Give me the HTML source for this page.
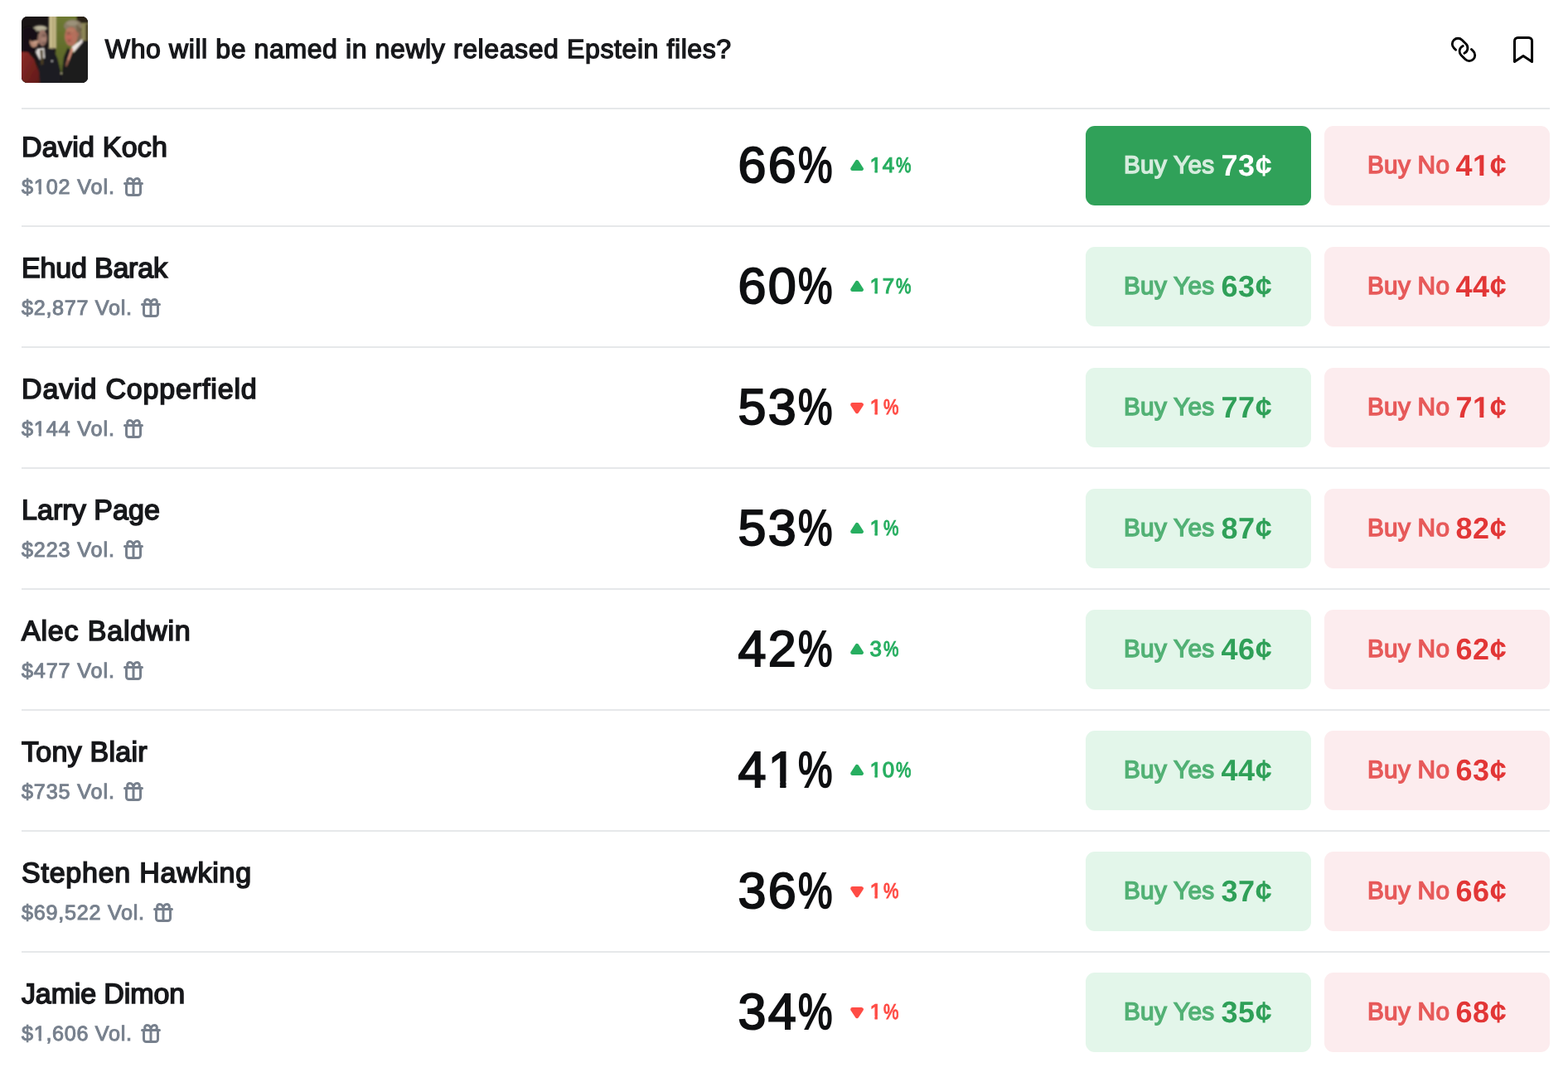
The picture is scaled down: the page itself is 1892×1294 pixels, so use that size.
<!DOCTYPE html>
<html lang="en">
<head>
<meta charset="utf-8">
<title>Who will be named in newly released Epstein files?</title>
<style>
*{box-sizing:border-box;margin:0;padding:0}
html,body{width:1892px;height:1294px;background:#fff}
body{overflow:hidden}
body{position:relative;font-family:"Liberation Sans",sans-serif;color:#17181b;text-rendering:geometricPrecision}
.thumb{position:absolute;left:26px;top:20px;width:80px;height:80px;border-radius:7px;overflow:hidden;background:#1b1617}
.thumb svg{display:block}
.title{position:absolute;left:126.8px;top:39px;height:40px;line-height:40px;font-size:32.1px;font-weight:400;white-space:nowrap;color:#17181b;-webkit-text-stroke:1.35px #17181b}
.ico{position:absolute;fill:none;stroke:#000;stroke-linecap:round;stroke-linejoin:round}
.hr0{position:absolute;left:26px;top:130px;width:1844px;height:2px;background:#e6e8ea}
.row{position:absolute;left:0;width:1892px;height:120px}
.hr{position:absolute;left:26px;top:120px;width:1844px;height:2px;background:#e6e8ea}
.name{position:absolute;left:26px;top:6.1px;height:40px;line-height:40px;font-size:34px;white-space:nowrap;color:#17181b;-webkit-text-stroke:1.6px #17181b}
.vol{position:absolute;left:26px;top:58px;height:32px;line-height:32px;font-size:25.2px;white-space:nowrap;color:#77808d;-webkit-text-stroke:1px #77808d}
.gift{position:absolute;top:4px;left:100%;margin-left:10px;fill:none;stroke:#77808d;stroke-width:3;stroke-linecap:round;stroke-linejoin:round}
.pct{position:absolute;left:890.5px;top:15.1px;height:64px;line-height:64px;font-size:61.1px;white-space:nowrap;color:#0e0f11;-webkit-text-stroke:1.9px #0e0f11;letter-spacing:2.35px}
.pct .ps{display:inline-block;transform:scaleX(.765);transform-origin:0 50%;letter-spacing:0;margin-left:.2px}
.chg{position:absolute;left:1026px;top:0;height:96px;white-space:nowrap;font-size:25.9px}
.chg.up{color:#27ae60}
.chg.down{color:#ff4c45}
.tri{position:absolute;left:0;top:40px;fill:currentColor;stroke:currentColor;stroke-width:4.8;stroke-linejoin:round}
.cv{position:absolute;left:23.5px;top:31.9px;height:32px;line-height:32px;letter-spacing:.8px;-webkit-text-stroke:1.1px currentColor}
.cv .ps{display:inline-block;transform:scaleX(.8);transform-origin:0 50%;letter-spacing:0;margin-left:1px}
.btn{position:absolute;top:0;width:272px;height:96px;border-radius:11px;white-space:nowrap}
.btn.yes{left:1310px;background:#e3f6ea;color:#2fa058}
.btn.no{left:1598px;background:#fcecee;color:#e23636}
.btn.yes.active{background:#30a159;color:#fff}
.lbl{position:absolute;left:46px;top:29.7px;letter-spacing:.25px;font-size:29.8px;line-height:36px;height:36px;opacity:.8;-webkit-text-stroke:1.4px currentColor}
.pr{position:absolute;left:163.5px;top:28px;letter-spacing:.6px;font-size:36px;line-height:40px;height:40px;font-weight:700}
.down .tri{top:42px}
.no .lbl{left:52px}
.no .pr{left:158.4px}
.vt{display:inline-block}
.pct.f2{clip-path:polygon(-9px -9px,calc(100% + 9px) -9px,calc(100% + 9px) calc(100% + 9px),72.3px calc(100% + 9px),72.3px 46.2px,57.92px 46.2px,57.92px calc(100% + 9px),50.72px calc(100% + 9px),50.72px 46.2px,36.6px 46.2px,36.6px calc(100% + 9px),-9px calc(100% + 9px))}
.cv.f1{clip-path:polygon(-9px -9px,calc(100% + 9px) -9px,calc(100% + 9px) calc(100% + 9px),15px calc(100% + 9px),15px 20.6px,9.3px 20.6px,9.3px calc(100% + 9px),6px calc(100% + 9px),6px 20.6px,-2px 20.6px,-2px calc(100% + 9px),-9px calc(100% + 9px))}
.pr.f2{clip-path:polygon(-9px -9px,calc(100% + 9px) -9px,calc(100% + 9px) calc(100% + 9px),41px calc(100% + 9px),41px 27.3px,33.92px 27.3px,33.92px calc(100% + 9px),29.02px calc(100% + 9px),29.02px 27.3px,20.9px 27.3px,20.9px calc(100% + 9px),-9px calc(100% + 9px))}
.vt.f2{clip-path:polygon(-9px -9px,calc(100% + 9px) -9px,calc(100% + 9px) calc(100% + 9px),28.4px calc(100% + 9px),28.4px 20.6px,23.8px 20.6px,23.8px calc(100% + 9px),20.7px calc(100% + 9px),20.7px 20.6px,15.6px 20.6px,15.6px calc(100% + 9px),-9px calc(100% + 9px))}

</style>
</head>
<body>
<div class="thumb"><svg viewBox="0 0 80 80" width="80" height="80" aria-hidden="true">
<defs>
<filter id="b1" x="-20%" y="-20%" width="140%" height="140%"><feGaussianBlur stdDeviation="0.8"/></filter>
<filter id="b2" x="-30%" y="-30%" width="160%" height="160%"><feGaussianBlur stdDeviation="1.5"/></filter>
<linearGradient id="gj" x1="0" y1="0" x2="1" y2="1"><stop offset="0" stop-color="#8c2d28"/><stop offset="1" stop-color="#5e1817"/></linearGradient>
<linearGradient id="gg" x1="0" y1="0" x2="0" y2="1"><stop offset="0" stop-color="#6f7a33"/><stop offset="1" stop-color="#5a6528"/></linearGradient>
</defs>
<rect width="80" height="80" fill="#191415"/>
<g filter="url(#b1)">
<rect x="41" y="-2" width="27" height="64" fill="url(#gg)"/>
<path d="M43.5 58L50.5 58 49 70.5 46.5 70.5Z" fill="#566227"/>
<rect x="32.9" y="-2" width="8.7" height="40.5" fill="#c8bc8c"/>
<rect x="37.6" y="-2" width="1.3" height="40" fill="#a69a68"/>
<rect x="66.5" y="-2" width="16" height="11" fill="#2b2119"/>
<rect x="72" y="8" width="10" height="21" fill="#8d8656"/>
<rect x="77.3" y="9" width="4" height="19.5" fill="#4a4228"/>
<path d="M82 28L73.5 30 62.6 44 55.7 37.5 51 48.5 48.7 67 47 82 82 82Z" fill="#1d1a1e"/>
<path d="M27 37.3L38.5 39.5 43.5 51 47.5 67 47 82 21 82 20 55 16.5 43Z" fill="#1f1c21"/>
<ellipse cx="62" cy="11" rx="11" ry="7.2" fill="#8a7e66"/>
<ellipse cx="61" cy="8" rx="7" ry="3" fill="#9c927a"/>
<path d="M66 10Q73.5 12 72.5 28L66.5 30Z" fill="#76664f"/>
<ellipse cx="59.8" cy="24" rx="7.8" ry="11.5" fill="#b4705c"/>
<ellipse cx="57.5" cy="25.5" rx="3.5" ry="4" fill="#c06a5a"/>
<ellipse cx="58.5" cy="16.5" rx="5" ry="2.5" fill="#b87a62"/>
<ellipse cx="67.5" cy="21.5" rx="1.6" ry="2.8" fill="#a86a58"/>
<path d="M73.2 27L60.7 36.7 62.6 43.5 73.8 30.6Z" fill="#efe8e4"/>
<path d="M60.2 37.3L62.6 39.5 55.5 58 53.3 57.5Z" fill="#d58d76"/>
<path d="M55.5 52L57 53 54.5 60.5 52.8 60Z" fill="#8a5442"/>
<ellipse cx="22.5" cy="14.2" rx="8.6" ry="3.8" fill="#a8a18a"/>
<ellipse cx="23" cy="13.5" rx="5" ry="1.8" fill="#bdb59c"/>
<ellipse cx="25.3" cy="26" rx="5.8" ry="10" fill="#9b7468"/>
<ellipse cx="26.5" cy="28.5" rx="3" ry="4" fill="#a88072"/>
<path d="M18.6 38.5L27.2 37.5 28 50 22 52 17 43.5Z" fill="#dbd7d3"/>
<path d="M22.3 40L25.5 40 26.5 57.5 23.5 58.5Z" fill="#4a3c22"/>
<ellipse cx="9" cy="23" rx="10.5" ry="10.8" fill="#151012"/>
<path d="M-2 28L14 34 17.5 43 8 44-2 43Z" fill="#151012"/>
<ellipse cx="15.5" cy="31" rx="5.5" ry="6.3" fill="#b58772"/>
<ellipse cx="16.5" cy="30" rx="3" ry="3.5" fill="#c49a84"/>
<path d="M9.5 24.5Q17 21.5 20 28.5L11.5 30Z" fill="#171112"/>
<path d="M-2 42.5L8 43 15.5 51.5 21 67 22 82-2 82Z" fill="url(#gj)"/>
<circle cx="36.8" cy="53.8" r="1" fill="#d8d8d8"/>
<circle cx="48" cy="68.4" r="1" fill="#c8c0a0"/>
</g>
<g filter="url(#b2)" opacity=".55">
<ellipse cx="56.8" cy="20.3" rx="2" ry="1" fill="#3a2420"/>
<ellipse cx="57.5" cy="29" rx="2.2" ry="1" fill="#4a2822"/>
<ellipse cx="27" cy="22.8" rx="2.5" ry="1.2" fill="#3a2c28"/>
<ellipse cx="27" cy="32" rx="2.5" ry="1.5" fill="#4a3630"/>
<ellipse cx="20.5" cy="34" rx="1.5" ry="2.5" fill="#2a1c1a"/>
</g>
</svg></div>
<h1 class="title" style="letter-spacing:0.57px">Who will be named in newly released Epstein files?</h1>
<svg class="ico" style="left:1748px;top:42px;stroke-width:2.8" viewBox="-18.05 -17.9 36 36" width="36" height="36" aria-hidden="true"><path d="M-9.42 0.39L-11.68 -1.88A6.9 6.9 0 0 1 -11.68 -11.63A6.9 6.9 0 0 1 -1.93 -11.63L2.88 -6.82A6.9 6.9 0 0 1 0.81 4.36"/><path d="M9.42 -0.39L11.68 1.88A6.9 6.9 0 0 1 11.68 11.63A6.9 6.9 0 0 1 1.93 11.63L-2.88 6.82A6.9 6.9 0 0 1 -0.81 -4.36"/></svg>
<svg class="ico" style="left:1820px;top:40px;stroke-width:3" viewBox="0 0 36 40" width="36" height="40" aria-hidden="true"><path d="M7.5 34.4V9.450a4 4 0 0 1 4-4h13.050a4 4 0 0 1 4 4V34.4L18.020 27.6Z"/></svg>
<div class="hr0"></div>

<section class="row" style="top:152px">
  <div class="name" style="letter-spacing:0.23px">David Koch</div>
  <div class="vol"><span class="vt f2" style="letter-spacing:0.86px">$102 Vol.</span><svg class="gift" viewBox="0 0 24 24" width="24" height="24"><path d="M1.5 7.5h21M3.5 7.5v11a3 3 0 0 0 3 3h11a3 3 0 0 0 3-3v-11M12 7.5v14M12 7.5C12 4 10.2 1.5 7.6 1.5a3 3 0 0 0 0 6M12 7.5c0-3.5 1.8-6 4.4-6a3 3 0 0 1 0 6"/></svg></div>
  <div class="pct">66<span class="ps">%</span></div>
  <div class="chg up"><svg class="tri" viewBox="0 0 16 15" width="16" height="15"><path d="M8.050 3.2L13.5 11.7H2.6Z"/></svg><span class="cv f1">14<span class="ps">%</span></span></div>
  <div class="btn yes active" role="button"><span class="lbl">Buy Yes</span><span class="pr">73¢</span></div>
  <div class="btn no" role="button"><span class="lbl">Buy No</span><span class="pr f2">41¢</span></div>
  <div class="hr"></div>
</section>
<section class="row" style="top:298px">
  <div class="name" style="letter-spacing:-0.19px">Ehud Barak</div>
  <div class="vol"><span class="vt" style="letter-spacing:0.69px">$2,877 Vol.</span><svg class="gift" viewBox="0 0 24 24" width="24" height="24"><path d="M1.5 7.5h21M3.5 7.5v11a3 3 0 0 0 3 3h11a3 3 0 0 0 3-3v-11M12 7.5v14M12 7.5C12 4 10.2 1.5 7.6 1.5a3 3 0 0 0 0 6M12 7.5c0-3.5 1.8-6 4.4-6a3 3 0 0 1 0 6"/></svg></div>
  <div class="pct">60<span class="ps">%</span></div>
  <div class="chg up"><svg class="tri" viewBox="0 0 16 15" width="16" height="15"><path d="M8.050 3.2L13.5 11.7H2.6Z"/></svg><span class="cv f1">17<span class="ps">%</span></span></div>
  <div class="btn yes" role="button"><span class="lbl">Buy Yes</span><span class="pr">63¢</span></div>
  <div class="btn no" role="button"><span class="lbl">Buy No</span><span class="pr">44¢</span></div>
  <div class="hr"></div>
</section>
<section class="row" style="top:444px">
  <div class="name" style="letter-spacing:0.84px">David Copperfield</div>
  <div class="vol"><span class="vt f2" style="letter-spacing:0.86px">$144 Vol.</span><svg class="gift" viewBox="0 0 24 24" width="24" height="24"><path d="M1.5 7.5h21M3.5 7.5v11a3 3 0 0 0 3 3h11a3 3 0 0 0 3-3v-11M12 7.5v14M12 7.5C12 4 10.2 1.5 7.6 1.5a3 3 0 0 0 0 6M12 7.5c0-3.5 1.8-6 4.4-6a3 3 0 0 1 0 6"/></svg></div>
  <div class="pct">53<span class="ps">%</span></div>
  <div class="chg down"><svg class="tri" viewBox="0 0 16 15" width="16" height="15"><path d="M8.050 10.8L13.5 2.4H2.6Z"/></svg><span class="cv f1">1<span class="ps">%</span></span></div>
  <div class="btn yes" role="button"><span class="lbl">Buy Yes</span><span class="pr">77¢</span></div>
  <div class="btn no" role="button"><span class="lbl">Buy No</span><span class="pr f2">71¢</span></div>
  <div class="hr"></div>
</section>
<section class="row" style="top:590px">
  <div class="name" style="letter-spacing:0.06px">Larry Page</div>
  <div class="vol"><span class="vt" style="letter-spacing:0.86px">$223 Vol.</span><svg class="gift" viewBox="0 0 24 24" width="24" height="24"><path d="M1.5 7.5h21M3.5 7.5v11a3 3 0 0 0 3 3h11a3 3 0 0 0 3-3v-11M12 7.5v14M12 7.5C12 4 10.2 1.5 7.6 1.5a3 3 0 0 0 0 6M12 7.5c0-3.5 1.8-6 4.4-6a3 3 0 0 1 0 6"/></svg></div>
  <div class="pct">53<span class="ps">%</span></div>
  <div class="chg up"><svg class="tri" viewBox="0 0 16 15" width="16" height="15"><path d="M8.050 3.2L13.5 11.7H2.6Z"/></svg><span class="cv f1">1<span class="ps">%</span></span></div>
  <div class="btn yes" role="button"><span class="lbl">Buy Yes</span><span class="pr">87¢</span></div>
  <div class="btn no" role="button"><span class="lbl">Buy No</span><span class="pr">82¢</span></div>
  <div class="hr"></div>
</section>
<section class="row" style="top:736px">
  <div class="name" style="letter-spacing:0.82px">Alec Baldwin</div>
  <div class="vol"><span class="vt" style="letter-spacing:0.86px">$477 Vol.</span><svg class="gift" viewBox="0 0 24 24" width="24" height="24"><path d="M1.5 7.5h21M3.5 7.5v11a3 3 0 0 0 3 3h11a3 3 0 0 0 3-3v-11M12 7.5v14M12 7.5C12 4 10.2 1.5 7.6 1.5a3 3 0 0 0 0 6M12 7.5c0-3.5 1.8-6 4.4-6a3 3 0 0 1 0 6"/></svg></div>
  <div class="pct">42<span class="ps">%</span></div>
  <div class="chg up"><svg class="tri" viewBox="0 0 16 15" width="16" height="15"><path d="M8.050 3.2L13.5 11.7H2.6Z"/></svg><span class="cv">3<span class="ps">%</span></span></div>
  <div class="btn yes" role="button"><span class="lbl">Buy Yes</span><span class="pr">46¢</span></div>
  <div class="btn no" role="button"><span class="lbl">Buy No</span><span class="pr">62¢</span></div>
  <div class="hr"></div>
</section>
<section class="row" style="top:882px">
  <div class="name" style="letter-spacing:0.26px">Tony Blair</div>
  <div class="vol"><span class="vt" style="letter-spacing:0.86px">$735 Vol.</span><svg class="gift" viewBox="0 0 24 24" width="24" height="24"><path d="M1.5 7.5h21M3.5 7.5v11a3 3 0 0 0 3 3h11a3 3 0 0 0 3-3v-11M12 7.5v14M12 7.5C12 4 10.2 1.5 7.6 1.5a3 3 0 0 0 0 6M12 7.5c0-3.5 1.8-6 4.4-6a3 3 0 0 1 0 6"/></svg></div>
  <div class="pct f2">41<span class="ps">%</span></div>
  <div class="chg up"><svg class="tri" viewBox="0 0 16 15" width="16" height="15"><path d="M8.050 3.2L13.5 11.7H2.6Z"/></svg><span class="cv f1">10<span class="ps">%</span></span></div>
  <div class="btn yes" role="button"><span class="lbl">Buy Yes</span><span class="pr">44¢</span></div>
  <div class="btn no" role="button"><span class="lbl">Buy No</span><span class="pr">63¢</span></div>
  <div class="hr"></div>
</section>
<section class="row" style="top:1028px">
  <div class="name" style="letter-spacing:0.76px">Stephen Hawking</div>
  <div class="vol"><span class="vt" style="letter-spacing:0.73px">$69,522 Vol.</span><svg class="gift" viewBox="0 0 24 24" width="24" height="24"><path d="M1.5 7.5h21M3.5 7.5v11a3 3 0 0 0 3 3h11a3 3 0 0 0 3-3v-11M12 7.5v14M12 7.5C12 4 10.2 1.5 7.6 1.5a3 3 0 0 0 0 6M12 7.5c0-3.5 1.8-6 4.4-6a3 3 0 0 1 0 6"/></svg></div>
  <div class="pct">36<span class="ps">%</span></div>
  <div class="chg down"><svg class="tri" viewBox="0 0 16 15" width="16" height="15"><path d="M8.050 10.8L13.5 2.4H2.6Z"/></svg><span class="cv f1">1<span class="ps">%</span></span></div>
  <div class="btn yes" role="button"><span class="lbl">Buy Yes</span><span class="pr">37¢</span></div>
  <div class="btn no" role="button"><span class="lbl">Buy No</span><span class="pr">66¢</span></div>
  <div class="hr"></div>
</section>
<section class="row" style="top:1174px">
  <div class="name" style="letter-spacing:-0.13px">Jamie Dimon</div>
  <div class="vol"><span class="vt f2" style="letter-spacing:0.69px">$1,606 Vol.</span><svg class="gift" viewBox="0 0 24 24" width="24" height="24"><path d="M1.5 7.5h21M3.5 7.5v11a3 3 0 0 0 3 3h11a3 3 0 0 0 3-3v-11M12 7.5v14M12 7.5C12 4 10.2 1.5 7.6 1.5a3 3 0 0 0 0 6M12 7.5c0-3.5 1.8-6 4.4-6a3 3 0 0 1 0 6"/></svg></div>
  <div class="pct">34<span class="ps">%</span></div>
  <div class="chg down"><svg class="tri" viewBox="0 0 16 15" width="16" height="15"><path d="M8.050 10.8L13.5 2.4H2.6Z"/></svg><span class="cv f1">1<span class="ps">%</span></span></div>
  <div class="btn yes" role="button"><span class="lbl">Buy Yes</span><span class="pr">35¢</span></div>
  <div class="btn no" role="button"><span class="lbl">Buy No</span><span class="pr">68¢</span></div>
</section>
</body>
</html>
